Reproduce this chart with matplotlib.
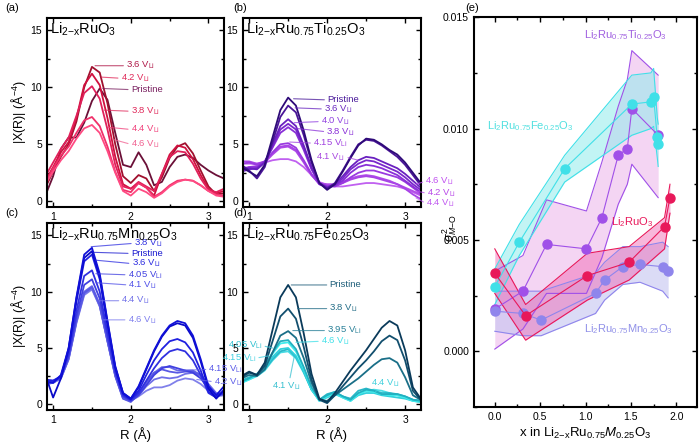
import matplotlib.pyplot as plt
import numpy as np
from matplotlib.ticker import MultipleLocator, FormatStrFormatter

plt.rcParams['font.family'] = ['Liberation Sans', 'DejaVu Sans']
plt.rcParams['mathtext.fontset'] = 'custom'
plt.rcParams['mathtext.rm'] = 'Liberation Sans'
plt.rcParams['mathtext.it'] = 'Liberation Sans:italic'
plt.rcParams['mathtext.bf'] = 'Liberation Sans:bold'

# radial distance grid (Angstrom)
R = [0.9, 1.0, 1.1, 1.2, 1.3, 1.4, 1.5, 1.6, 1.7, 1.8, 1.9, 2.0,
     2.1, 2.2, 2.3, 2.4, 2.5, 2.6, 2.7, 2.8, 2.9, 3.0, 3.1, 3.2]

# (a) Li2-xRuO3
a_36 = [1.2, 2.6, 3.9, 5.0, 7.0, 10.0, 11.8, 11.3, 8.6, 5.0, 2.2, 1.6, 2.3, 2.0, 0.9, 2.1, 3.8, 4.8, 5.1, 4.2, 2.7, 1.3, 0.6, 0.7]
a_42 = [1.8, 3.0, 4.3, 5.2, 7.3, 10.2, 11.2, 10.2, 7.3, 3.9, 1.5, 1.1, 1.6, 1.2, 0.5, 2.4, 4.1, 4.9, 4.7, 3.7, 2.3, 1.1, 0.7, 0.9]
a_pristine = [0.5, 2.2, 4.6, 5.6, 5.6, 6.9, 8.8, 9.9, 8.9, 6.0, 3.2, 3.0, 4.3, 3.2, 1.4, 1.7, 3.0, 3.9, 4.1, 3.8, 3.2, 2.7, 2.3, 2.0]
a_38 = [2.2, 3.4, 4.6, 5.6, 7.5, 9.5, 10.1, 9.0, 6.3, 3.2, 1.3, 1.1, 1.7, 1.3, 0.9, 2.4, 3.9, 4.4, 4.3, 3.3, 2.0, 1.0, 0.8, 1.1]
a_44 = [1.6, 2.9, 4.0, 4.8, 6.0, 7.1, 7.4, 6.6, 4.8, 2.6, 1.0, 0.8, 1.6, 1.2, 0.4, 0.8, 1.4, 1.8, 1.9, 1.8, 1.4, 0.9, 0.6, 0.5]
a_46 = [1.5, 2.6, 3.6, 4.4, 5.5, 6.4, 6.7, 6.0, 4.4, 2.5, 0.9, 0.5, 1.1, 0.8, 0.3, 0.7, 1.3, 1.7, 1.9, 1.8, 1.4, 0.9, 0.5, 0.4]

# (b) Li2-xRu0.75Ti0.25O3
b_pristine = [3.0, 2.6, 2.2, 3.2, 5.6, 8.0, 9.1, 8.4, 6.2, 3.6, 1.6, 1.0, 1.5, 2.6, 3.8, 4.9, 5.5, 5.4, 5.0, 4.5, 4.1, 3.4, 2.5, 1.6]
b_36 = [3.2, 2.7, 2.0, 3.0, 5.2, 7.4, 8.4, 7.8, 5.8, 3.4, 1.6, 1.1, 1.6, 2.7, 3.9, 5.0, 5.4, 5.3, 4.9, 4.4, 3.9, 3.2, 2.3, 1.4]
b_40 = [2.8, 2.9, 2.8, 3.4, 5.0, 6.6, 7.2, 6.6, 4.9, 3.0, 1.6, 1.2, 1.5, 2.2, 3.0, 3.6, 3.9, 3.8, 3.5, 3.2, 2.9, 2.4, 1.8, 1.2]
b_38 = [2.6, 2.8, 2.9, 3.4, 4.8, 6.3, 6.8, 6.3, 4.7, 2.9, 1.5, 1.2, 1.4, 2.0, 2.8, 3.3, 3.6, 3.5, 3.2, 2.9, 2.6, 2.1, 1.5, 1.0]
b_42 = [2.7, 3.0, 3.0, 3.5, 4.7, 6.0, 6.5, 6.0, 4.5, 2.8, 1.6, 1.3, 1.4, 1.8, 2.5, 3.0, 3.2, 3.1, 2.9, 2.6, 2.3, 1.8, 1.3, 0.8]
b_415 = [3.3, 3.4, 3.2, 3.5, 4.3, 5.0, 5.1, 4.7, 3.6, 2.4, 1.5, 1.3, 1.3, 1.6, 2.1, 2.5, 2.7, 2.7, 2.5, 2.3, 2.1, 1.7, 1.2, 0.7]
b_44 = [3.5, 3.5, 3.3, 3.5, 4.2, 4.8, 4.9, 4.5, 3.5, 2.3, 1.5, 1.4, 1.4, 1.6, 1.9, 2.1, 2.2, 2.1, 1.9, 1.7, 1.5, 1.1, 0.6, 0.2]
b_41 = [2.9, 3.0, 3.1, 3.4, 4.1, 4.7, 4.8, 4.4, 3.4, 2.3, 1.6, 1.5, 1.5, 1.7, 2.0, 2.2, 2.3, 2.2, 2.0, 1.8, 1.5, 1.2, 0.9, 0.6]
b_46 = [3.3, 3.3, 3.3, 3.4, 3.6, 3.7, 3.7, 3.5, 3.0, 2.3, 1.7, 1.4, 1.3, 1.3, 1.4, 1.5, 1.6, 1.6, 1.5, 1.4, 1.3, 1.1, 0.8, 0.5]

# (c) Li2-xRu0.75Mn0.25O3
c_38 = [2.0, 1.9, 2.6, 5.0, 9.5, 13.3, 13.9, 11.6, 7.4, 3.4, 1.0, 0.5, 1.6, 3.2, 4.8, 6.1, 7.0, 7.4, 7.2, 6.1, 4.0, 1.6, 0.8, 1.6]
c_pristine = [2.6, 0.6, 2.3, 5.0, 9.4, 13.0, 13.6, 11.4, 7.3, 3.3, 1.0, 0.5, 1.5, 3.1, 4.7, 6.0, 6.9, 7.2, 7.0, 5.9, 3.8, 1.4, 0.5, 1.3]
c_36 = [2.2, 2.1, 2.5, 4.8, 9.1, 12.7, 13.3, 11.1, 7.0, 3.2, 0.9, 0.4, 1.2, 2.6, 3.9, 4.9, 5.6, 5.8, 5.5, 4.6, 3.0, 1.1, 0.6, 1.2]
c_405 = [1.9, 2.0, 2.4, 4.5, 8.3, 11.4, 11.9, 10.0, 6.4, 2.9, 0.8, 0.4, 1.0, 2.1, 3.2, 4.1, 4.7, 4.9, 4.7, 3.9, 2.6, 1.0, 0.6, 1.1]
c_41 = [2.0, 2.0, 2.4, 4.3, 7.8, 10.6, 11.1, 9.4, 6.0, 2.8, 0.7, 0.3, 0.8, 1.7, 2.6, 3.2, 3.4, 3.2, 3.0, 2.8, 2.3, 1.4, 0.8, 0.9]
c_44 = [1.8, 1.9, 2.3, 4.1, 7.4, 10.0, 10.5, 8.9, 5.7, 2.6, 0.6, 0.3, 0.9, 1.9, 2.8, 3.3, 3.3, 3.0, 3.0, 3.0, 2.6, 1.5, 0.9, 1.0]
c_415 = [2.1, 2.1, 2.4, 4.1, 7.4, 9.9, 10.4, 8.8, 5.6, 2.5, 0.5, 0.2, 0.9, 2.0, 2.8, 3.1, 2.9, 2.8, 2.9, 2.9, 2.6, 1.7, 0.9, 0.9]
c_42 = [1.8, 1.9, 2.3, 4.0, 7.3, 9.8, 10.3, 8.7, 5.6, 2.5, 0.5, 0.3, 0.8, 1.6, 2.2, 2.4, 2.3, 2.4, 2.7, 2.8, 2.5, 1.8, 1.0, 0.9]
c_46 = [1.9, 2.0, 2.3, 4.0, 7.2, 9.7, 10.2, 8.7, 5.6, 2.6, 0.6, 0.3, 0.7, 1.2, 1.5, 1.5, 1.7, 2.1, 2.3, 2.2, 1.8, 1.2, 0.7, 0.8]

# (d) Li2-xRu0.75Fe0.25O3
d_pristine = [2.5, 2.9, 2.6, 3.7, 6.6, 9.5, 10.6, 9.5, 6.3, 2.7, 0.5, 0.2, 1.0, 2.0, 3.0, 3.9, 4.8, 5.8, 6.8, 7.4, 7.0, 4.8, 1.5, 0.5]
d_38 = [2.4, 2.8, 2.6, 3.4, 5.6, 7.8, 8.5, 7.6, 5.1, 2.2, 0.4, 0.1, 0.8, 1.6, 2.4, 3.2, 3.9, 4.7, 5.6, 6.1, 5.7, 3.9, 1.2, 0.4]
d_395 = [2.3, 2.6, 2.5, 3.1, 4.6, 6.1, 6.5, 5.9, 4.1, 1.9, 0.4, 0.3, 0.8, 1.3, 1.8, 2.3, 2.9, 3.5, 4.0, 4.1, 3.7, 2.4, 0.8, 0.4]
d_405 = [2.0, 2.3, 2.7, 3.4, 4.6, 5.6, 5.7, 4.9, 3.3, 1.5, 0.4, 0.8, 1.1, 0.7, 0.4, 1.0, 1.3, 1.2, 0.9, 0.9, 0.9, 0.7, 0.4, 0.3]
d_46 = [1.9, 2.2, 2.6, 3.3, 4.5, 5.4, 5.5, 4.7, 3.2, 1.4, 0.3, 0.7, 1.0, 0.6, 0.3, 0.9, 1.2, 1.1, 0.9, 0.8, 0.8, 0.6, 0.3, 0.2]
d_415 = [2.0, 2.3, 2.6, 3.2, 4.2, 4.9, 5.0, 4.3, 2.9, 1.3, 0.3, 0.6, 0.9, 0.6, 0.3, 0.8, 1.0, 1.0, 0.8, 0.7, 0.6, 0.5, 0.3, 0.2]
d_41 = [2.1, 2.4, 2.6, 3.1, 4.0, 4.7, 4.9, 4.2, 2.9, 1.3, 0.4, 0.9, 1.1, 0.7, 0.5, 1.2, 1.4, 1.2, 1.0, 1.0, 0.9, 0.7, 0.4, 0.3]
d_44 = [1.9, 2.2, 2.5, 3.0, 3.9, 4.6, 4.7, 4.1, 2.8, 1.3, 0.4, 0.7, 1.0, 0.7, 0.4, 0.9, 1.2, 1.3, 1.2, 1.0, 0.8, 0.6, 0.4, 0.3]

# (e) sigma^2 vs x
ru_x = [0.0, 0.34, 1.02, 1.48, 1.87, 1.93]
ru_s = [0.0035, 0.0016, 0.0034, 0.0040, 0.0056, 0.0069]
ru_hi = [0.0046, 0.0021, 0.0044, 0.0047, 0.0060, 0.0075]
ru_lo = [0.0026, 0.0005, 0.0023, 0.0032, 0.0046, 0.0062]

ti_x = [0.0, 0.31, 0.57, 1.01, 1.18, 1.36, 1.46, 1.51, 1.80]
ti_s = [0.0019, 0.0027, 0.0048, 0.0046, 0.0060, 0.0088, 0.0091, 0.0109, 0.0097]
ti_hi = [0.0036, 0.0043, 0.0068, 0.0063, 0.0085, 0.0110, 0.0122, 0.0135, 0.0124]
ti_lo = [0.0001, 0.0010, 0.0026, 0.0026, 0.0042, 0.0066, 0.0075, 0.0084, 0.0069]

fe_x = [0.0, 0.27, 0.77, 1.51, 1.72, 1.75, 1.79, 1.80]
fe_s = [0.0029, 0.0049, 0.0082, 0.0111, 0.0112, 0.0114, 0.0096, 0.0093]
fe_hi = [0.0037, 0.0057, 0.0088, 0.0124, 0.0125, 0.0127, 0.0105, 0.0102]
fe_lo = [0.0021, 0.0043, 0.0076, 0.0097, 0.0100, 0.0101, 0.0087, 0.0083]

mn_x = [0.0, 0.31, 0.51, 1.11, 1.21, 1.41, 1.60, 1.85, 1.91]
mn_s = [0.0018, 0.0017, 0.0014, 0.0026, 0.0032, 0.0038, 0.0039, 0.0038, 0.0036]
mn_hi = [0.0027, 0.0027, 0.0027, 0.0035, 0.0040, 0.0047, 0.0047, 0.0049, 0.0047]
mn_lo = [0.0009, 0.0007, 0.0007, 0.0017, 0.0023, 0.0030, 0.0031, 0.0027, 0.0024]


def vli(v):
    return v + r' V$_{\mathrm{Li}}$'


def exafs_panel(ax, curves, labels, title):
    for y, c in curves:
        ax.plot(R, y, color=c, lw=1.3)
    for text, col, xy, xyt, ha, rel in labels:
        ax.annotate(text, xy=xy, xytext=xyt, color=col, fontsize=6.8, ha=ha, va='center',
                    annotation_clip=False,
                    arrowprops=dict(arrowstyle='-', color=col, lw=0.8, alpha=0.75,
                                    shrinkA=0, shrinkB=0, relpos=rel))
    ax.text(0.02, 0.985, title, transform=ax.transAxes, fontsize=10.5, va='top', ha='left')
    ax.set_xlim(0.92, 3.2)
    ax.set_ylim(-0.5, 16.1)
    ax.xaxis.set_major_locator(MultipleLocator(1))
    ax.xaxis.set_minor_locator(MultipleLocator(0.5))
    ax.yaxis.set_major_locator(MultipleLocator(5))
    ax.yaxis.set_minor_locator(MultipleLocator(2.5))
    ax.tick_params(which='both', direction='in', top=True, right=True, labelsize=7.5, width=1)
    ax.tick_params(which='major', length=3.5)
    ax.tick_params(which='minor', length=2)
    for s in ax.spines.values():
        s.set_linewidth(1.5)


fig = plt.figure(figsize=(7, 4.47), dpi=100)

ax_a = fig.add_axes([0.067, 0.537, 0.253, 0.423])
ax_b = fig.add_axes([0.347, 0.537, 0.254, 0.423])
ax_c = fig.add_axes([0.067, 0.083, 0.253, 0.418])
ax_d = fig.add_axes([0.347, 0.083, 0.254, 0.418])
ax_e = fig.add_axes([0.677, 0.0895, 0.319, 0.872])

L, Rr = (0, 0.5), (1, 0.5)

exafs_panel(ax_a,
            [(a_pristine, '#6b1038'), (a_36, '#a0102e'), (a_42, '#d0103e'),
             (a_38, '#e0205a'), (a_44, '#f0306a'), (a_46, '#ff4a82')],
            [(vli('3.6'), '#b01848', (1.54, 11.9), (1.94, 11.9), 'left', L),
             (vli('4.2'), '#e02858', (1.62, 10.9), (1.87, 10.8), 'left', L),
             ('Pristine', '#7a2060', (1.64, 9.9), (2.0, 9.8), 'left', L),
             (vli('3.8'), '#e0285a', (1.66, 8.0), (2.0, 7.9), 'left', L),
             (vli('4.4'), '#f0407a', (1.71, 6.5), (2.0, 6.3), 'left', L),
             (vli('4.6'), '#f06090', (1.79, 5.4), (2.0, 5.0), 'left', L)],
            r'Li$_{2\mathrm{-x}}$RuO$_3$')

exafs_panel(ax_b,
            [(b_46, '#c060f0'), (b_41, '#b04ce8'), (b_44, '#a844e6'), (b_415, '#9a3ae0'),
             (b_42, '#8a30d8'), (b_38, '#7a28cc'), (b_40, '#6a20c0'), (b_36, '#4a1598'),
             (b_pristine, '#2e0a78')],
            [('Pristine', '#4a1a9a', (1.57, 9.0), (2.0, 8.9), 'left', L),
             (vli('3.6'), '#6a28c0', (1.59, 8.2), (1.96, 8.1), 'left', L),
             (vli('4.0'), '#9040e0', (1.58, 6.9), (1.92, 7.0), 'left', L),
             (vli('3.8'), '#8a30d8', (1.6, 6.4), (1.99, 6.1), 'left', L),
             (vli('4.15'), '#a040e0', (1.52, 5.2), (1.82, 5.1), 'left', L),
             (vli('4.1'), '#a848e0', (2.4, 3.6), (1.86, 3.9), 'left', Rr),
             (vli('4.6'), '#c050f0', (3.14, 1.5), (3.26, 1.75), 'left', L),
             (vli('4.2'), '#b848e8', (3.14, 0.9), (3.28, 0.7), 'left', L),
             (vli('4.4'), '#c058f0', (3.14, 0.3), (3.27, -0.2), 'left', L)],
            r'Li$_{2\mathrm{-x}}$Ru$_{0.75}$Ti$_{0.25}$O$_3$')

exafs_panel(ax_c,
            [(c_46, '#8080ea'), (c_42, '#7070e8'), (c_44, '#6a6ae6'), (c_415, '#5858e4'),
             (c_41, '#4040e0'), (c_405, '#3030e0'), (c_36, '#2020e0'), (c_pristine, '#0a0ac8'),
             (c_38, '#1010d8')],
            [(vli('3.8'), '#3030e0', (1.49, 14.0), (2.04, 14.3), 'left', L),
             ('Pristine', '#1a1ad0', (1.52, 13.5), (2.0, 13.4), 'left', L),
             (vli('3.6'), '#2a2ae0', (1.55, 12.8), (2.01, 12.5), 'left', L),
             (vli('4.05'), '#4040e0', (1.55, 11.6), (1.96, 11.5), 'left', L),
             (vli('4.1'), '#5050e8', (1.55, 10.8), (1.97, 10.6), 'left', L),
             (vli('4.4'), '#7070e8', (1.6, 9.2), (1.88, 9.2), 'left', L),
             (vli('4.6'), '#8080ee', (1.65, 7.5), (1.96, 7.5), 'left', L),
             (vli('4.15'), '#5a5ae8', (2.62, 3.0), (3.0, 3.1), 'left', L),
             (vli('4.2'), '#6060e8', (2.85, 2.2), (3.07, 2.0), 'left', L)],
            r'Li$_{2\mathrm{-x}}$Ru$_{0.75}$Mn$_{0.25}$O$_3$')

exafs_panel(ax_d,
            [(d_44, '#48dce4'), (d_41, '#28b8c8'), (d_415, '#30d0dc'), (d_46, '#40ecec'),
             (d_405, '#22b0c0'), (d_395, '#1a6f88'), (d_38, '#124f6e'), (d_pristine, '#0a3a5a')],
            [('Pristine', '#1f5f7a', (1.54, 10.6), (2.03, 10.6), 'left', L),
             (vli('3.8'), '#256e88', (1.62, 8.5), (2.03, 8.5), 'left', L),
             (vli('3.95'), '#2a8098', (1.56, 6.55), (2.0, 6.55), 'left', L),
             (vli('4.6'), '#40e0e8', (1.6, 5.5), (1.92, 5.6), 'left', L),
             (vli('4.05'), '#30c0d0', (1.3, 5.0), (1.17, 5.2), 'right', Rr),
             (vli('4.15'), '#40d0e0', (1.25, 4.3), (1.09, 4.1), 'right', Rr),
             (vli('4.1'), '#38c0d0', (1.58, 4.3), (1.48, 1.6), 'center', (0.6, 1)),
             (vli('4.4'), '#40d0dc', (2.62, 1.1), (2.75, 1.9), 'center', (0.3, 0))],
            r'Li$_{2\mathrm{-x}}$Ru$_{0.75}$Fe$_{0.25}$O$_3$')

ylab = r'|X(R)| (Å$^{-4}$)'
ax_a.set_ylabel(ylab, fontsize=9, labelpad=2)
ax_c.set_ylabel(ylab, fontsize=9, labelpad=2)
ax_c.set_xlabel('R (Å)', fontsize=9.5, labelpad=2)
ax_d.set_xlabel('R (Å)', fontsize=9.5, labelpad=2)

# (e)
series = [
    (ti_x, ti_s, ti_hi, ti_lo, '#a050e8', '#f0c4ee', 0.7),
    (fe_x, fe_s, fe_hi, fe_lo, '#40e0e8', '#90ecec', 0.55),
    (mn_x, mn_s, mn_hi, mn_lo, '#8f85ec', '#c4c4f0', 0.6),
    (ru_x, ru_s, ru_hi, ru_lo, '#e8185a', '#f060b0', 0.45),
]
for x, s, hi, lo, col, fcol, al in series:
    ax_e.fill_between(x, lo, hi, color=fcol, alpha=al, lw=0)
    ax_e.plot(x, hi, color=col, lw=0.8)
    ax_e.plot(x, lo, color=col, lw=0.8)
for x, s, hi, lo, col, fcol, al in series:
    ax_e.plot(x, s, color=col, lw=0.8, marker='o', ms=6.5, mec=col, mfc=col, zorder=5)

ax_e.text(0.98, 0.0142, r'Li$_2$Ru$_{0.75}$Ti$_{0.25}$O$_3$', color='#a060e0', fontsize=8, va='center')
ax_e.text(-0.09, 0.0101, r'Li$_2$Ru$_{0.75}$Fe$_{0.25}$O$_3$', color='#50e0e0', fontsize=8, va='center')
ax_e.text(1.28, 0.0058, r'Li$_2$RuO$_3$', color='#e8185a', fontsize=8, va='center')
ax_e.text(0.98, 0.00098, r'Li$_2$Ru$_{0.75}$Mn$_{0.25}$O$_3$', color='#9090e8', fontsize=8, va='center')

ax_e.set_xlim(-0.23, 2.23)
ax_e.set_ylim(-0.0025, 0.015)
ax_e.xaxis.set_major_locator(MultipleLocator(0.5))
ax_e.xaxis.set_minor_locator(MultipleLocator(0.25))
ax_e.yaxis.set_major_locator(MultipleLocator(0.005))
ax_e.yaxis.set_minor_locator(MultipleLocator(0.0025))
ax_e.xaxis.set_major_formatter(FormatStrFormatter('%.1f'))
ax_e.yaxis.set_major_formatter(FormatStrFormatter('%.3f'))
ax_e.tick_params(which='both', direction='in', top=True, right=True, labelsize=7.5, width=1)
ax_e.tick_params(which='major', length=3.5)
ax_e.tick_params(which='minor', length=2)
for s in ax_e.spines.values():
    s.set_linewidth(1.5)
ax_e.set_xlabel(r'x in Li$_{2\mathrm{-x}}$Ru$_{0.75}$$M_{0.25}$O$_3$', fontsize=9.5, labelpad=3)
ax_e.set_ylabel(r'$\sigma^2_{M\mathrm{-O}}$', fontsize=9)
ax_e.yaxis.set_label_coords(-0.065, 0.46)

for lab, px, py in [('(a)', 5, 8), ('(b)', 233, 8), ('(c)', 5, 213), ('(d)', 233, 213), ('(e)', 465, 8)]:
    fig.text(px / 700, 1 - py / 447, lab, fontsize=8, ha='left', va='center')

fig.savefig('out.png', dpi=100)
